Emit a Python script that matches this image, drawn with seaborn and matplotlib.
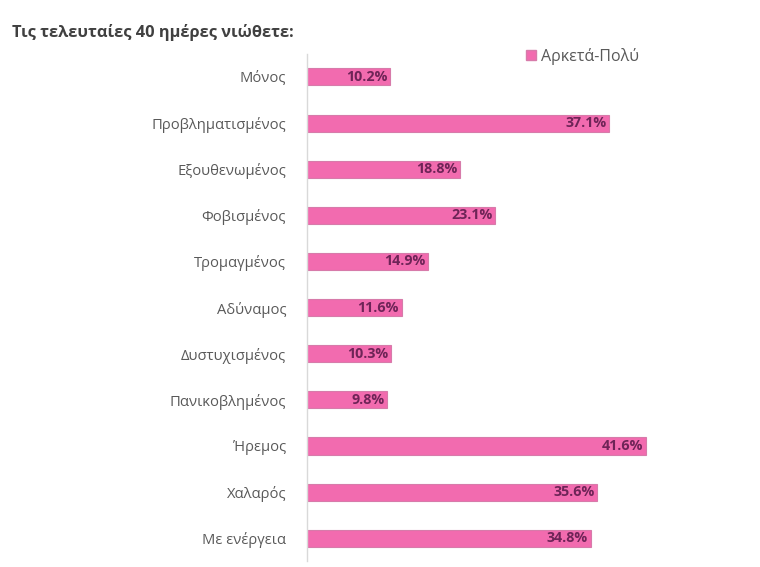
import matplotlib
matplotlib.use("Agg")
import matplotlib.pyplot as plt
import seaborn as sns
import pandas as pd
from matplotlib.patches import Patch

# --- DATA ---
categories = ["Μόνος", "Προβληματισμένος", "Εξουθενωμένος", "Φοβισμένος",
              "Τρομαγμένος", "Αδύναμος", "Δυστυχισμένος", "Πανικοβλημένος",
              "Ήρεμος", "Χαλαρός", "Με ενέργεια"]
values = [10.2, 37.1, 18.8, 23.1, 14.9, 11.6, 10.3, 9.8, 41.6, 35.6, 34.8]
series_name = "Αρκετά-Πολύ"
title = "Τις τελευταίες 40 ημέρες νιώθετε:"

BAR_COLOR = "#F26BAF"
EDGE_COLOR = "#D77BAA"
LABEL_COLOR = "#6E2457"
TEXT_COLOR = "#595959"

sns.set_theme(style="white")
plt.rcParams['font.family'] = ['Open Sans', 'DejaVu Sans']

df = pd.DataFrame({"category": categories, "value": values})

fig = plt.figure(figsize=(7.6, 5.67), dpi=100)
ax = fig.add_axes([0.404, 0.01, 0.55, 0.895])

sns.barplot(data=df, x="value", y="category", color=BAR_COLOR, ax=ax,
            width=0.37, edgecolor=EDGE_COLOR, linewidth=0.8, saturation=1)

ax.set_xlim(0, 51.3)
ax.set_xlabel("")
ax.set_ylabel("")
ax.set_xticks([])
ax.tick_params(axis="y", length=0, pad=15, labelsize=10.6, labelcolor=TEXT_COLOR)
for s in ["top", "right", "bottom"]:
    ax.spines[s].set_visible(False)
ax.spines["left"].set_color("#D9D9D9")
ax.spines["left"].set_linewidth(1)

# value labels at the end of the bars
for i, v in enumerate(values):
    ax.text(v - 0.3, i, f"{v}%", ha="right", va="center", fontsize=10.3,
            fontweight="bold", color=LABEL_COLOR)

# legend
handle = Patch(facecolor=BAR_COLOR, edgecolor=EDGE_COLOR, label=series_name)
ax.legend(handles=[handle], loc="upper left", bbox_to_anchor=(0.49, 1.04),
          frameon=False, fontsize=11.5, handlelength=0.6, handleheight=0.6,
          handletextpad=0.35, labelcolor=TEXT_COLOR)

fig.text(0.016, 0.943, title, fontsize=11.8, fontweight="bold", color="#404040",
         ha="left", va="center")

fig.savefig("out.png", dpi=100)
